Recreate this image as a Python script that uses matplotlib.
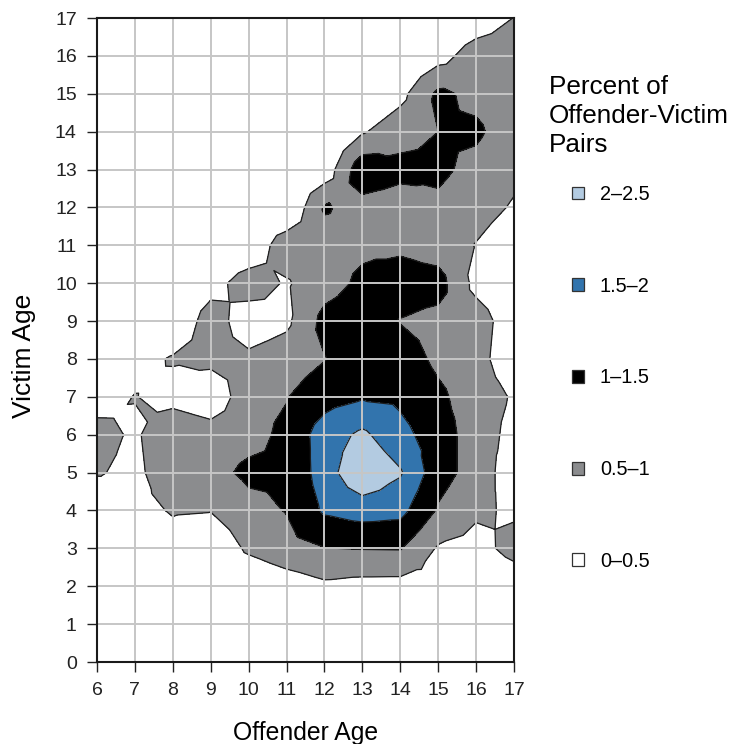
import numpy as np
import matplotlib
matplotlib.use('Agg')
import matplotlib.pyplot as plt
import matplotlib.tri as mtri
from matplotlib.patches import Patch

plt.rcParams['font.family'] = ['Liberation Sans', 'DejaVu Sans']

# ── data: percent of offender-victim pairs at each (offender age, victim age) ──
offender_ages = np.arange(6, 18)   # x: 6..17
victim_ages = np.arange(0, 18)     # y: 0..17

# rows listed from victim age 17 (top) down to 0 (bottom); columns offender 6..17
pct_rows = [
    [0, 0, 0, 0, 0, 0, 0, 0, 0, 0, 0.2, 0.51],                          # 17
    [0, 0, 0, 0, 0, 0, 0, 0, 0, 0.3, 0.75, 0.8],                        # 16
    [0, 0, 0, 0, 0, 0, 0, 0, 0.35, 1.1, 0.88, 0.75],                    # 15
    [0, 0, 0, 0, 0, 0, 0, 0.45, 0.8, 1.0, 1.08, 0.75],                  # 14
    [0, 0, 0, 0, 0, 0, 0.18, 1.35, 1.15, 1.1, 0.86, 0.62],              # 13
    [0, 0, 0, 0, 0, 0, 1.05, 0.82, 0.75, 0.9, 0.7, 0.45],               # 12
    [0, 0, 0, 0, 0.1, 0.8, 0.8, 0.9, 0.9, 0.75, 0.48, 0.2],             # 11
    [0, 0, 0, 0.3, 0.75, 0.45, 0.8, 1.1, 1.25, 1.2, 0.35, 0.1],         # 10
    [0, 0, 0.05, 0.75, 0.22, 0.4, 1.15, 1.3, 0.98, 0.85, 0.75, 0.2],    # 9
    [0, 0.3, 0.55, 0.65, 0.6, 0.75, 0.98, 1.35, 1.25, 0.9, 0.7, 0.15],  # 8
    [0.24, 0.52, 0.3, 0.1, 0.85, 0.98, 1.3, 1.45, 1.4, 1.1, 0.75, 0.45],  # 7
    [0.71, 0.41, 0.95, 0.77, 0.85, 1.1, 1.75, 2.1, 1.65, 1.25, 0.75, 0.35],  # 6
    [0.55, 0.35, 0.9, 0.85, 1.1, 1.05, 1.75, 2.45, 2.05, 1.2, 0.8, 0.2],  # 5
    [0, 0.3, 0.55, 0.52, 0.85, 1.02, 1.57, 1.71, 1.65, 0.95, 0.58, 0.43],  # 4
    [0, 0, 0.24, 0.05, 0.6, 0.85, 0.99, 1.02, 1.03, 0.45, 0.33, 0.66],  # 3
    [0, 0, 0, 0, 0, 0.21, 0.4, 0.33, 0.32, 0.3, 0.05, 0.2],             # 2
    [0] * 12,                                                           # 1
    [0] * 12,                                                           # 0
]

levels = [0, 0.5, 1, 1.5, 2, 2.5]
level_labels = ['0–0.5', '0.5–1', '1–1.5', '1.5–2', '2–2.5']
level_colors = ['#ffffff', '#8b8c8e', '#000000', '#3274ad', '#b3cbe1']

# ── triangulate each grid cell into 4 triangles around its centre ────────────
pct = np.array(pct_rows, dtype=float)[::-1]      # row index == victim age
nx, ny = len(offender_ages), len(victim_ages)
gx, gy = np.meshgrid(offender_ages, victim_ages)
px = list(gx.ravel().astype(float))
py = list(gy.ravel().astype(float))
pz = list(pct.ravel())
triangles = []
for j in range(ny - 1):
    for i in range(nx - 1):
        a = j * nx + i
        b = a + 1
        c = a + nx + 1
        d = a + nx
        k = len(px)
        px.append(offender_ages[i] + 0.5)
        py.append(victim_ages[j] + 0.5)
        pz.append((pz[a] + pz[b] + pz[c] + pz[d]) / 4.0)
        triangles += [[a, b, k], [b, c, k], [c, d, k], [d, a, k]]
tri = mtri.Triangulation(np.array(px), np.array(py), np.array(triangles))
pz = np.array(pz)

fig = plt.figure(figsize=(7.31, 7.44), dpi=100)
ax = fig.add_axes([0.1327, 0.1102, 0.5704, 0.8656])

ax.tricontourf(tri, pz, levels=levels, colors=level_colors, zorder=1)
ax.tricontour(tri, pz, levels=levels[1:-1], colors='#1e1e1e',
              linewidths=0.9, zorder=1.5)

ax.set_xlim(6, 17)
ax.set_ylim(0, 17)
ax.set_xticks(offender_ages)
ax.set_yticks(victim_ages)
ax.set_axisbelow(False)
ax.grid(True, color='#c6c6c6', linewidth=1.4)
ax.tick_params(axis='both', direction='out', length=7.5, width=1.0,
               pad=7, labelsize=14, colors='#222222')
for s in ax.spines.values():
    s.set_linewidth(1.5)
    s.set_color('#1a1a1a')
    s.set_zorder(3)

ax.set_xlabel('Offender Age', fontsize=17.8, labelpad=16)
ax.set_ylabel('Victim Age', fontsize=19)
ax.yaxis.set_label_coords(-0.146, 0.476)

# legend: title as free text, entries from highest to lowest class
fig.text(549 / 731, 0.899, 'Percent of\nOffender-Victim\nPairs',
         ha='left', va='top', fontsize=18.8, linespacing=1.25)
handles = [Patch(facecolor=c, edgecolor='#333333', linewidth=0.9)
           for c in level_colors[::-1]]
fig.legend(handles, level_labels[::-1], loc='upper left',
           bbox_to_anchor=(571.7 / 731, 0.7513), frameon=False,
           fontsize=14.3, labelspacing=3.66, handlelength=0.62,
           handleheight=0.62, handletextpad=0.8, borderpad=0,
           borderaxespad=0)

fig.savefig('out.png', dpi=100)
